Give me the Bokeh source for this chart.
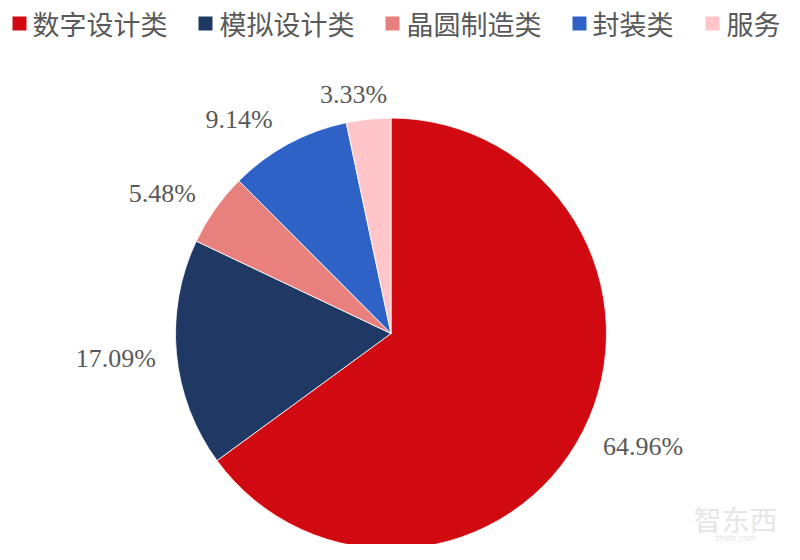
import numpy as np
from bokeh.plotting import figure
from bokeh.models import Range1d, ColumnDataSource
from bokeh.core.properties import value
from bokeh.embed import file_html
from bokeh.resources import INLINE

# ---- data ----
categories = ["数字设计类", "模拟设计类", "晶圆制造类", "封装类", "服务"]
shares = [64.96, 17.09, 5.48, 9.14, 3.33]
colors = ["#D00A10", "#1F3864", "#E8807E", "#2E62C6", "#FFC5C8"]

# ---- layout (picture pixels; data y = 560 - picture y) ----
PAGE_H = 560
W, H = 784, 544
cx, cy_page, R = 390.5, 333.0, 215.5
cy = PAGE_H - cy_page
label_r = 240.0
label_font = 26
label_nudges = [(3, 0), (3, 2), (-6, 4), (-22, 6), (-9, 10)]  # picture px tweaks
legend_sq_x = [12, 198, 385, 572, 705]
legend_txt_x = [32, 219, 406, 592, 726]
legend_y_page = 23

p = figure(width=W, height=H, x_range=Range1d(0, W), y_range=Range1d(PAGE_H - H, PAGE_H),
           output_backend="svg", toolbar_location=None, min_border=0,
           x_axis_location=None, y_axis_location=None)
p.grid.visible = False
p.outline_line_color = None
p.background_fill_color = "white"
p.border_fill_color = "white"

vals = np.array(shares, dtype=float)
frac = vals / vals.sum()
cum_after = np.cumsum(frac)
cum_before = cum_after - frac
start = np.pi / 2 - 2 * np.pi * cum_before
end = np.pi / 2 - 2 * np.pi * cum_after

src = ColumnDataSource(dict(start=start, end=end, color=colors, cat=categories))
p.wedge(x=cx, y=cy, radius=R, start_angle="start", end_angle="end", direction="clock",
        fill_color="color", line_color="white", line_width=0.8, source=src)

# ---- percentage labels ----
mid = np.pi / 2 - 2 * np.pi * (cum_before + frac / 2)
lx, ly, lt = [], [], []
for i, v in enumerate(shares):
    txt = f"{v:.2f}%"
    w = 13.5 * len(txt) - 2
    h = 20
    dx, dy = np.cos(mid[i]), np.sin(mid[i])
    x = cx + label_r * dx + w / 2 * dx + label_nudges[i][0]
    y = cy + label_r * dy + h / 2 * dy - label_nudges[i][1]
    lx.append(x); ly.append(y); lt.append(txt)
p.text(x=lx, y=ly, text=lt, text_align="center", text_baseline="middle",
       text_font=value("Liberation Serif"), text_font_size=f"{label_font}px", text_color="#595959")

# ---- legend ----
ly_leg = PAGE_H - legend_y_page
p.rect(x=[x + 7 for x in legend_sq_x], y=[ly_leg] * len(categories), width=14, height=14,
       fill_color=colors, line_color=None)
p.text(x=legend_txt_x, y=[ly_leg] * len(categories), text=categories, text_align="left",
       text_baseline="middle", text_font=value("Noto Sans CJK SC"), text_font_size="27px",
       text_color="#595959")

# ---- watermark ----
p.text(x=[735], y=[PAGE_H - 518], text=["智东西"], text_align="center", text_baseline="middle",
       text_font=value("Noto Sans CJK SC"), text_font_size="28px", text_color="#E6E6E6")
p.text(x=[735], y=[PAGE_H - 538], text=["zhidx.com"], text_align="center", text_baseline="middle",
       text_font=value("DejaVu Sans"), text_font_size="8px", text_color="#E6E6E6")

open("out.html", "w").write(file_html(p, INLINE))
